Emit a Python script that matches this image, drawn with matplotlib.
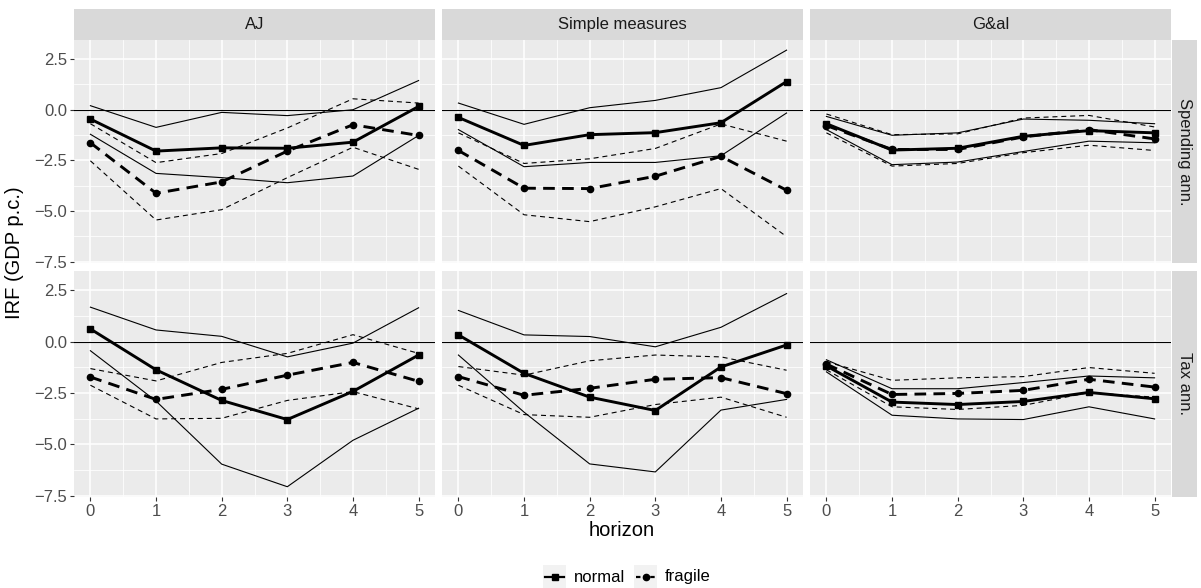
import numpy as np
import matplotlib
matplotlib.use("Agg")
import matplotlib.pyplot as plt

plt.rcParams['font.family'] = ['Liberation Sans', 'DejaVu Sans']

horizon = [0, 1, 2, 3, 4, 5]
models = ["AJ", "Simple measures", "G&al"]
shocks = ["Spending ann.", "Tax ann."]
regimes = ["normal", "fragile"]

# rows: lower band, point estimate, upper band
aj_spend_normal = [[-1.21, -3.14, -3.35, -3.60, -3.27, -1.27],
                   [-0.46, -2.04, -1.88, -1.90, -1.60, 0.16],
                   [0.20, -0.87, -0.13, -0.29, 0.00, 1.44]]
aj_spend_fragile = [[-2.52, -5.44, -4.93, -3.35, -1.85, -2.94],
                    [-1.63, -4.12, -3.56, -2.04, -0.74, -1.27],
                    [-0.69, -2.61, -2.16, -0.90, 0.54, 0.33]]
sm_spend_normal = [[-0.98, -2.81, -2.60, -2.60, -2.27, -0.16],
                   [-0.38, -1.76, -1.23, -1.13, -0.64, 1.39],
                   [0.33, -0.72, 0.10, 0.46, 1.09, 2.94]]
sm_spend_fragile = [[-2.78, -5.18, -5.52, -4.79, -3.89, -6.26],
                    [-2.01, -3.87, -3.89, -3.28, -2.30, -3.97],
                    [-1.14, -2.65, -2.42, -1.91, -0.70, -1.55]]
ga_spend_normal = [[-0.98, -2.71, -2.58, -2.06, -1.55, -1.63],
                   [-0.69, -1.99, -1.90, -1.31, -1.03, -1.14],
                   [-0.33, -1.26, -1.14, -0.46, -0.52, -0.69]]
ga_spend_fragile = [[-1.14, -2.78, -2.65, -2.12, -1.75, -2.01],
                    [-0.78, -1.96, -1.96, -1.34, -0.98, -1.44],
                    [-0.21, -1.23, -1.19, -0.41, -0.28, -0.85]]
aj_tax_normal = [[-0.44, -2.89, -5.96, -7.06, -4.80, -3.24],
                 [0.62, -1.37, -2.86, -3.79, -2.42, -0.65],
                 [1.68, 0.57, 0.26, -0.74, -0.07, 1.65]]
aj_tax_fragile = [[-2.12, -3.76, -3.73, -2.86, -2.43, -3.27],
                  [-1.72, -2.81, -2.32, -1.63, -1.01, -1.93],
                  [-1.31, -1.91, -1.01, -0.57, 0.34, -0.57]]
sm_tax_normal = [[-0.65, -3.43, -5.95, -6.34, -3.33, -2.81],
                 [0.33, -1.54, -2.70, -3.35, -1.23, -0.16],
                 [1.52, 0.33, 0.25, -0.25, 0.70, 2.34]]
sm_tax_fragile = [[-2.12, -3.55, -3.68, -3.06, -2.70, -3.68],
                  [-1.70, -2.61, -2.27, -1.83, -1.75, -2.53],
                  [-1.21, -1.63, -0.93, -0.65, -0.74, -1.39]]
ga_tax_normal = [[-1.47, -3.58, -3.76, -3.79, -3.17, -3.76],
                 [-1.18, -2.94, -3.06, -2.91, -2.47, -2.78],
                 [-0.88, -2.29, -2.29, -1.99, -1.67, -1.76]]
ga_tax_fragile = [[-1.37, -3.17, -3.30, -3.10, -2.48, -2.70],
                  [-1.09, -2.57, -2.52, -2.37, -1.83, -2.21],
                  [-0.98, -1.88, -1.76, -1.70, -1.26, -1.54]]

panels = {
    ("Spending ann.", "AJ"): (aj_spend_normal, aj_spend_fragile),
    ("Spending ann.", "Simple measures"): (sm_spend_normal, sm_spend_fragile),
    ("Spending ann.", "G&al"): (ga_spend_normal, ga_spend_fragile),
    ("Tax ann.", "AJ"): (aj_tax_normal, aj_tax_fragile),
    ("Tax ann.", "Simple measures"): (sm_tax_normal, sm_tax_fragile),
    ("Tax ann.", "G&al"): (ga_tax_normal, ga_tax_fragile),
}

# shared y range with ggplot-like 5% expansion
allv = np.concatenate([np.ravel(v) for pair in panels.values() for v in pair])
lo, hi = allv.min(), allv.max()
pad = 0.05 * (hi - lo)
ylim = (lo - pad, hi + pad)

W, H = 1201, 588
fig = plt.figure(figsize=(W / 100, H / 100), dpi=100)


def px_axes(x0, y0, x1, y1):
    return fig.add_axes([x0 / W, 1 - y1 / H, (x1 - x0) / W, (y1 - y0) / H])


def blank(ax, color):
    ax.set_facecolor(color)
    ax.set_xticks([]); ax.set_yticks([])
    for s in ax.spines.values():
        s.set_visible(False)


cols = [(74, 435), (442, 803), (810, 1171)]
rows = [(40, 263), (271, 497)]
strip_col = "#D9D9D9"
bg = "#EBEBEB"
tick_fs = 12
strip_fs = 12

styles = {
    "normal": dict(est_ls="-", band_ls="-", marker="s", ms=5),
    "fragile": dict(est_ls=(0, (4, 2.5)), band_ls=(0, (4.5, 3.5)), marker="o", ms=4.5),
}

yticks = [-7.5, -5.0, -2.5, 0.0, 2.5]
for r, shock in enumerate(shocks):
    for c, model in enumerate(models):
        x0, x1 = cols[c]
        y0, y1 = rows[r]
        ax = px_axes(x0, y0, x1, y1)
        ax.set_facecolor(bg)
        ax.set_axisbelow(True)
        for s in ax.spines.values():
            s.set_visible(False)
        ax.set_xlim(-0.25, 5.25)
        ax.set_ylim(*ylim)
        ax.set_xticks(horizon)
        ax.set_xticks(np.arange(0.5, 5, 1), minor=True)
        ax.set_yticks(yticks)
        ax.set_yticks([-6.25, -3.75, -1.25, 1.25], minor=True)
        ax.grid(which="major", color="white", lw=1.1)
        ax.grid(which="minor", color="white", lw=0.55)
        ax.tick_params(which="minor", length=0)
        ax.tick_params(which="major", length=3, width=0.8, color="#333333",
                       labelsize=tick_fs, labelcolor="#4D4D4D", pad=2)
        if c == 0:
            ax.set_yticklabels([f"{t:.1f}".replace("-", "\u2212") for t in yticks])
        else:
            ax.tick_params(axis="y", left=False, labelleft=False)
        if r == 1:
            ax.set_xticklabels([str(h) for h in horizon])
        else:
            ax.tick_params(axis="x", bottom=False, labelbottom=False)

        ax.axhline(0, color="black", lw=0.8)
        for reg, data in zip(regimes, panels[(shock, model)]):
            st = styles[reg]
            ax.plot(horizon, data[0], color="black", lw=0.8, ls=st["band_ls"])
            ax.plot(horizon, data[2], color="black", lw=0.8, ls=st["band_ls"])
            ax.plot(horizon, data[1], color="black", lw=2.1, ls=st["est_ls"],
                    marker=st["marker"], ms=st["ms"])

        if r == 0:
            sax = px_axes(x0, 9, x1, 40)
            blank(sax, strip_col)
            sax.text(0.5, 0.5, model, ha="center", va="center", fontsize=strip_fs,
                     color="#1A1A1A", transform=sax.transAxes)
    sax = px_axes(1172, rows[r][0], 1197, rows[r][1])
    blank(sax, strip_col)
    sax.text(0.5, 0.5, shock, ha="center", va="center", fontsize=strip_fs,
             rotation=-90, color="#1A1A1A", transform=sax.transAxes)

fig.text(15 / W, 1 - 253 / H, "IRF (GDP p.c.)", rotation=90, ha="center",
         va="center", fontsize=14.5)
fig.text(622 / W, 1 - 530 / H, "horizon", ha="center", va="center", fontsize=14.5)

# legend drawn as ggplot-style keys
key_pos = [(543, 566, 574), (634, 657, 665)]
for reg, (kx0, kx1, tx) in zip(regimes, key_pos):
    st = styles[reg]
    kax = px_axes(kx0, 565, kx1, 588)
    blank(kax, "#F2F2F2")
    kax.set_xlim(0, 1); kax.set_ylim(0, 1)
    kax.plot([0.1, 0.9], [0.5, 0.5], color="black", lw=1.6,
             ls="-" if reg == "normal" else (0, (2, 1.2)))
    kax.plot([0.5], [0.5], color="black", marker=st["marker"], ms=st["ms"])
    fig.text(tx / W, 1 - 577 / H, reg, ha="left", va="center", fontsize=tick_fs)

fig.savefig("out.png", dpi=100)
